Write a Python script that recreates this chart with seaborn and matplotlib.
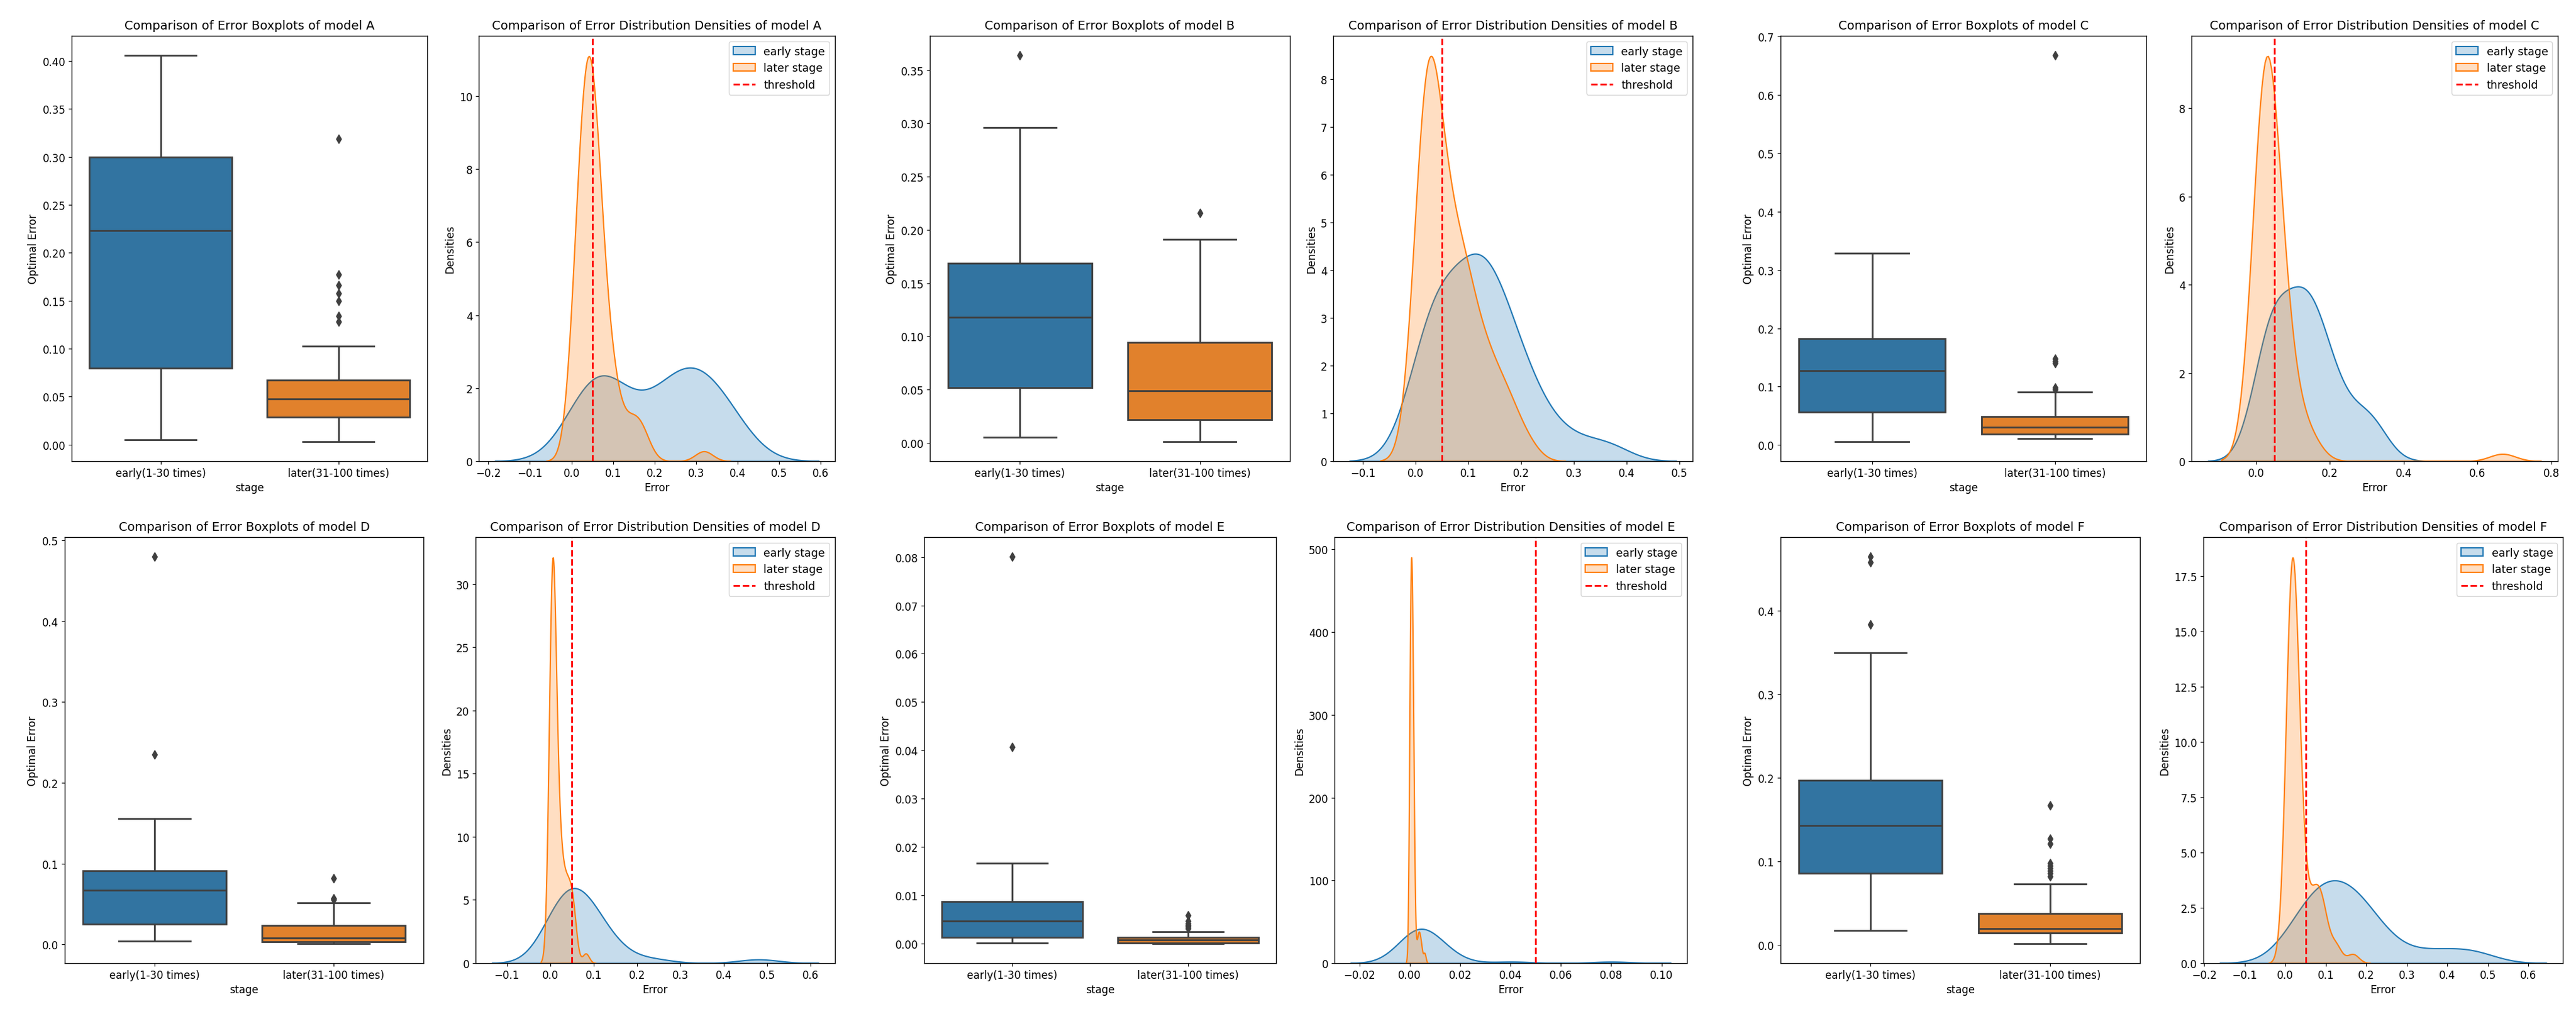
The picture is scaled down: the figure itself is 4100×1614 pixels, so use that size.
import numpy as np
import pandas as pd
import matplotlib
matplotlib.use("Agg")
import matplotlib.pyplot as plt
import seaborn as sns

models = ["A", "B", "C", "D", "E", "F"]
stage_labels = ["early(1-30 times)", "later(31-100 times)"]
threshold = 0.05

early_A = [0.005, 0.020, 0.035, 0.045, 0.055, 0.062, 0.070, 0.078, 0.086, 0.095,
           0.110, 0.130, 0.160, 0.195, 0.215, 0.231, 0.240, 0.250, 0.262, 0.273,
           0.284, 0.294, 0.302, 0.314, 0.327, 0.340, 0.353, 0.368, 0.385, 0.406]
later_A = [0.003, 0.006, 0.009, 0.011, 0.013, 0.015, 0.017, 0.018, 0.019, 0.020,
           0.021, 0.022, 0.023, 0.024, 0.025, 0.026, 0.027, 0.028, 0.032, 0.033,
           0.034, 0.035, 0.036, 0.037, 0.038, 0.039, 0.040, 0.041, 0.042, 0.043,
           0.044, 0.045, 0.046, 0.046, 0.047, 0.048, 0.049, 0.050, 0.051, 0.052,
           0.053, 0.054, 0.055, 0.056, 0.058, 0.059, 0.060, 0.061, 0.062, 0.064,
           0.065, 0.066, 0.068, 0.071, 0.074, 0.078, 0.082, 0.087, 0.092, 0.097,
           0.100, 0.101, 0.1026, 0.128, 0.134, 0.150, 0.158, 0.166, 0.177, 0.319]

early_B = [0.005, 0.012, 0.020, 0.028, 0.035, 0.041, 0.046, 0.051, 0.055, 0.075,
           0.088, 0.097, 0.104, 0.109, 0.114, 0.122, 0.126, 0.130, 0.135, 0.142,
           0.150, 0.164, 0.1705, 0.178, 0.190, 0.205, 0.222, 0.245, 0.296, 0.364]
later_B = [0.001, 0.003, 0.005, 0.007, 0.009, 0.010, 0.012, 0.013, 0.014, 0.015,
           0.016, 0.017, 0.018, 0.019, 0.019, 0.020, 0.021, 0.021, 0.024, 0.025,
           0.026, 0.027, 0.028, 0.029, 0.030, 0.032, 0.034, 0.036, 0.038, 0.039,
           0.041, 0.043, 0.045, 0.046, 0.048, 0.050, 0.052, 0.054, 0.057, 0.060,
           0.063, 0.066, 0.069, 0.072, 0.075, 0.078, 0.081, 0.084, 0.087, 0.089,
           0.091, 0.093, 0.095, 0.100, 0.104, 0.108, 0.112, 0.117, 0.122, 0.127,
           0.132, 0.138, 0.144, 0.150, 0.157, 0.165, 0.174, 0.183, 0.191, 0.216]

early_C = [0.0055, 0.015, 0.025, 0.033, 0.040, 0.046, 0.051, 0.055, 0.0615, 0.072,
           0.088, 0.100, 0.110, 0.118, 0.124, 0.130, 0.135, 0.141, 0.148, 0.156,
           0.165, 0.178, 0.1833, 0.195, 0.210, 0.228, 0.255, 0.290, 0.310, 0.329]
later_C = [0.011, 0.012, 0.013, 0.013, 0.014, 0.014, 0.015, 0.015, 0.016, 0.016,
           0.017, 0.017, 0.017, 0.018, 0.018, 0.018, 0.019, 0.019, 0.019, 0.020,
           0.021, 0.021, 0.022, 0.023, 0.023, 0.024, 0.025, 0.025, 0.026, 0.027,
           0.027, 0.028, 0.028, 0.029, 0.029, 0.031, 0.032, 0.033, 0.034, 0.035,
           0.036, 0.037, 0.038, 0.039, 0.040, 0.041, 0.042, 0.043, 0.044, 0.045,
           0.046, 0.048, 0.0493, 0.055, 0.058, 0.061, 0.065, 0.069, 0.073, 0.077,
           0.081, 0.085, 0.088, 0.0906, 0.0955, 0.098, 0.140, 0.143, 0.148, 0.668]

early_D = [0.004, 0.008, 0.012, 0.016, 0.019, 0.021, 0.023, 0.024, 0.028, 0.034,
           0.041, 0.048, 0.055, 0.061, 0.066, 0.069, 0.072, 0.075, 0.078, 0.082,
           0.086, 0.090, 0.092, 0.100, 0.115, 0.130, 0.145, 0.156, 0.235, 0.480]
later_D = [0.001, 0.0011, 0.0012, 0.0015, 0.0017, 0.0020, 0.0022, 0.0024, 0.0026, 0.0028,
           0.0030, 0.0031, 0.0032, 0.0033, 0.0034, 0.0035, 0.0036, 0.0037, 0.0038, 0.0040,
           0.0043, 0.0046, 0.0049, 0.0052, 0.0055, 0.0058, 0.0061, 0.0064, 0.0067, 0.0070,
           0.0072, 0.0074, 0.0076, 0.0078, 0.0079, 0.0081, 0.0085, 0.0090, 0.0096, 0.0103,
           0.0110, 0.0118, 0.0126, 0.0135, 0.0145, 0.0156, 0.0168, 0.0180, 0.0192, 0.0205,
           0.0218, 0.0230, 0.0237, 0.026, 0.028, 0.030, 0.032, 0.034, 0.036, 0.038,
           0.040, 0.042, 0.044, 0.046, 0.049, 0.051, 0.052, 0.0555, 0.057, 0.082]

early_E = [0.0001, 0.0003, 0.0005, 0.0007, 0.0009, 0.0011, 0.0012, 0.0013, 0.0015, 0.0019,
           0.0024, 0.0030, 0.0036, 0.0041, 0.0045, 0.0050, 0.0055, 0.0061, 0.0067, 0.0073,
           0.0079, 0.0084, 0.0088, 0.0097, 0.0108, 0.0120, 0.0135, 0.01665, 0.0407, 0.0801]
later_E = [0.00000, 0.00005, 0.00010, 0.00011, 0.00012, 0.00013, 0.00014, 0.00015, 0.00016, 0.00016,
           0.00017, 0.00017, 0.00018, 0.00018, 0.00019, 0.00019, 0.00020, 0.00020, 0.00021, 0.00030,
           0.00038, 0.00045, 0.00050, 0.00054, 0.00058, 0.00061, 0.00064, 0.00067, 0.00069, 0.00071,
           0.00073, 0.00075, 0.00077, 0.00078, 0.00079, 0.00081, 0.00082, 0.00084, 0.00086, 0.00088,
           0.00090, 0.00092, 0.00094, 0.00096, 0.00099, 0.00102, 0.00105, 0.00108, 0.00112, 0.00116,
           0.00121, 0.00130, 0.00140, 0.00142, 0.00144, 0.00146, 0.00148, 0.00150, 0.00153, 0.00156,
           0.00160, 0.00165, 0.00175, 0.00250, 0.0032, 0.0035, 0.0038, 0.0042, 0.0047, 0.0059]

early_F = [0.0176, 0.030, 0.042, 0.052, 0.061, 0.069, 0.077, 0.084, 0.091, 0.098,
           0.105, 0.112, 0.120, 0.128, 0.138, 0.148, 0.156, 0.164, 0.172, 0.180,
           0.188, 0.195, 0.1977, 0.215, 0.240, 0.275, 0.350, 0.384, 0.458, 0.465]
later_F = [0.0016, 0.004, 0.006, 0.008, 0.0095, 0.0105, 0.0112, 0.0118, 0.0123, 0.0127,
           0.0131, 0.0134, 0.0136, 0.0138, 0.0140, 0.0141, 0.0142, 0.0143, 0.0147, 0.0150,
           0.0153, 0.0156, 0.0159, 0.0162, 0.0165, 0.0168, 0.0171, 0.0174, 0.0177, 0.0180,
           0.0183, 0.0186, 0.0189, 0.0192, 0.0194, 0.0196, 0.0202, 0.0210, 0.0220, 0.0230,
           0.0240, 0.0252, 0.0265, 0.0280, 0.0295, 0.0310, 0.0325, 0.0338, 0.0350, 0.0360,
           0.0368, 0.0375, 0.0382, 0.043, 0.050, 0.058, 0.062, 0.070, 0.072, 0.0725,
           0.073, 0.082, 0.086, 0.089, 0.092, 0.095, 0.098, 0.121, 0.127, 0.167]

early_data = {"A": early_A, "B": early_B, "C": early_C, "D": early_D, "E": early_E, "F": early_F}
later_data = {"A": later_A, "B": later_B, "C": later_C, "D": later_D, "E": later_E, "F": later_F}

plt.rcParams.update({
    "font.family": ["DejaVu Sans"],
    "font.size": 12,
    "axes.titlesize": 14,
    "axes.labelsize": 12,
    "xtick.labelsize": 12,
    "ytick.labelsize": 12,
    "legend.fontsize": 12.5,
    "axes.linewidth": 1.0,
})

W, H = 4100, 1615
fig = plt.figure(figsize=(W / 100, H / 100), dpi=100)

row_tb = [(58, 735), (856, 1534)]
col_lr = [
    [(114, 680), (762, 1329), (1480, 2053), (2122, 2694), (2834, 3416), (3488, 4071)],
    [(103, 674), (757, 1329), (1471, 2031), (2124, 2685), (2834, 3406), (3507, 4079)],
]

def make_ax(r, c):
    t, b = row_tb[r]
    l, rr = col_lr[r][c]
    return fig.add_axes([l / W, 1 - b / H, (rr - l) / W, (b - t) / H])

box_palette = ["#1f77b4", "#ff7f0e"]
line_gray = "#3f3f3f"

for i, m in enumerate(models):
    r = i // 3
    c0 = (i % 3) * 2
    e = early_data[m]
    l = later_data[m]
    df = pd.DataFrame({
        "stage": [stage_labels[0]] * len(e) + [stage_labels[1]] * len(l),
        "error": e + l,
    })
    axb = make_ax(r, c0)
    sns.boxplot(data=df, x="stage", y="error", hue="stage", palette=box_palette,
                saturation=0.75, linecolor=line_gray, linewidth=2, width=0.8,
                flierprops=dict(marker="d", markerfacecolor=line_gray,
                                markeredgecolor=line_gray, markersize=7),
                legend=False, ax=axb)
    axb.set_title(f"Comparison of Error Boxplots of model {m}", pad=8)
    axb.set_xlabel("stage")
    axb.set_ylabel("Optimal Error")

    axk = make_ax(r, c0 + 1)
    sns.kdeplot(x=e, fill=True, color="#1f77b4", label="early stage", linewidth=1.5, ax=axk)
    sns.kdeplot(x=l, fill=True, color="#ff7f0e", label="later stage", linewidth=1.5, ax=axk)
    axk.axvline(threshold, color="red", linestyle="--", linewidth=2, label="threshold")
    axk.set_title(f"Comparison of Error Distribution Densities of model {m}", pad=8)
    axk.set_xlabel("Error")
    axk.set_ylabel("Densities")
    axk.legend(loc="upper right")

fig.savefig("out.png", dpi=100)
